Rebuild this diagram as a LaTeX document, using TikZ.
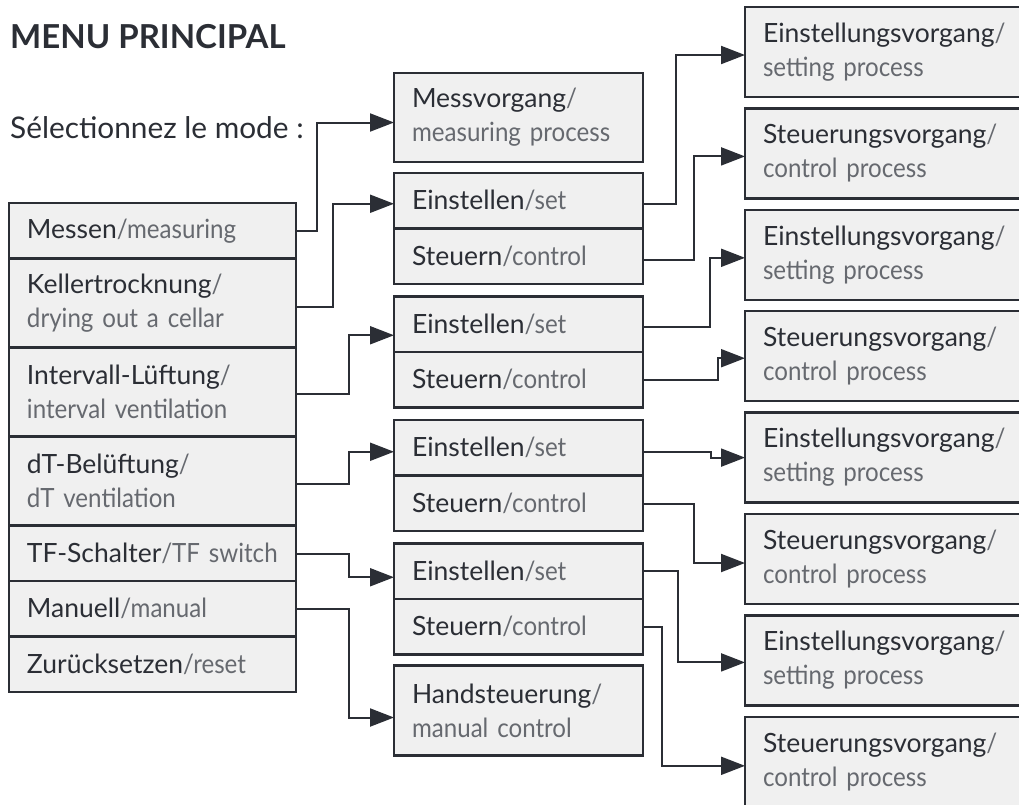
\documentclass[tikz,border=0pt]{standalone}
\usepackage{fontspec}
\setmainfont{Lato}
\usetikzlibrary{positioning,arrows.meta}
\definecolor{ink}{HTML}{2B2E35}
\definecolor{boxfill}{HTML}{F0F0F0}
\definecolor{engl}{HTML}{66696F}
\newcommand{\en}[1]{{\addfontfeature{FakeStretch=0.91}\color{engl}#1}}
\newcommand{\one}[2]{\mbox{#1\en{/#2}}}
\newcommand{\two}[2]{#1\en{/}\\\mbox{\en{#2}}}

\begin{document}
\begin{tikzpicture}[x=1pt,y=-1pt,% picture measured in pixels, y going down
			every node/.style={
				text=ink,
				font=\fontsize{26.5}{34}\selectfont
			},
			cell/.style={
				rectangle,draw=ink,line width=2.3pt,fill=boxfill,
				outer sep=0pt,		% so stacked rows share one border
				inner xsep=18pt,inner ysep=0pt,
				align=left,anchor=north west
			},
			single/.style={minimum height=55.5pt},
			double/.style={minimum height=89pt},
			menucell/.style={cell,text width=251pt},
			midcell/.style={cell,text width=213pt},
			proccell/.style={cell,double,minimum height=90pt,text width=249pt},
			link/.style={draw=ink,line width=2pt,-{Triangle[length=24pt,width=18pt]}}
		]
		\clip (0,0) rectangle (1019,804);
		\fill[white] (0,0) rectangle (1019,804);

		% headings
		\node[anchor=base west,inner sep=0pt,font=\fontsize{33}{33}\selectfont\bfseries](title) at (10,48){MENU PRINCIPAL};
		\node[anchor=base west,inner sep=0pt,font=\fontsize{29.8}{30}\selectfont](prompt) at (10,138){Sélectionnez le mode :};

		% main menu
		\node[menucell,single](messen) at (9,203){\one{Messen}{measuring}};
		\node[menucell,double](keller)[below=0pt of messen]{\two{Kellertrocknung}{drying out a cellar}};
		\node[menucell,double](intervall)[below=0pt of keller]{\two{Intervall-Lüftung}{interval ventilation}};
		\node[menucell,double](dtbel)[below=0pt of intervall]{\two{dT-Belüftung}{dT ventilation}};
		\node[menucell,single](tfschalt)[below=0pt of dtbel]{\one{TF-Schalter}{TF switch}};
		\node[menucell,single](manuell)[below=0pt of tfschalt]{\one{Manuell}{manual}};
		\node[menucell,single](reset)[below=0pt of manuell]{\one{Zurücksetzen}{reset}};

		% second column
		\node[midcell,double](messvorg) at (394,73){\two{Messvorgang}{measuring process}};
		\node[midcell,single](setA)[below=11pt of messvorg]{\one{Einstellen}{set}};
		\node[midcell,single](ctlA)[below=0pt of setA]{\one{Steuern}{control}};
		\node[midcell,single](setB)[below=12.5pt of ctlA]{\one{Einstellen}{set}};
		\node[midcell,single](ctlB)[below=0pt of setB]{\one{Steuern}{control}};
		\node[midcell,single](setC)[below=12.5pt of ctlB]{\one{Einstellen}{set}};
		\node[midcell,single](ctlC)[below=0pt of setC]{\one{Steuern}{control}};
		\node[midcell,single](setD)[below=12.5pt of ctlC]{\one{Einstellen}{set}};
		\node[midcell,single](ctlD)[below=0pt of setD]{\one{Steuern}{control}};
		\node[midcell,double,minimum height=90pt](hand)[below=11pt of ctlD]{\two{Handsteuerung}{manual control}};

		% third column
		\node[proccell](procA) at (745,7){\two{Einstellungsvorgang}{setting process}};
		\node[proccell](procB)[below=11.4pt of procA]{\two{Steuerungsvorgang}{control process}};
		\node[proccell](procC)[below=11.4pt of procB]{\two{Einstellungsvorgang}{setting process}};
		\node[proccell](procD)[below=11.4pt of procC]{\two{Steuerungsvorgang}{control process}};
		\node[proccell](procE)[below=11.4pt of procD]{\two{Einstellungsvorgang}{setting process}};
		\node[proccell](procF)[below=11.4pt of procE]{\two{Steuerungsvorgang}{control process}};
		\node[proccell](procG)[below=11.4pt of procF]{\two{Einstellungsvorgang}{setting process}};
		\node[proccell](procH)[below=11.4pt of procG]{\two{Steuerungsvorgang}{control process}};

		% menu -> second column
		\path[link] (messen.east) -- ++(21,0) |- ([yshift=-5pt]messvorg.west);
		\path[link] ([yshift=-4pt]keller.east) -- ++(37,0) |- ([yshift=-3pt]setA.west);
		\path[link] ([yshift=-2pt]intervall.east) -- ++(53,0) |- ([yshift=-11pt]setB.west);
		\path[link] ([yshift=-3pt]dtbel.east) -- ++(53,0) |- ([yshift=-4pt]setC.west);
		\path[link] ([yshift=-1pt]tfschalt.east) -- ++(53,0) |- ([yshift=-6pt]setD.west);
		\path[link] (manuell.east) -- ++(53,0) |- ([yshift=-7pt]hand.west);

		% second column -> third column
		\path[link] ([yshift=-3pt]setA.east) -- ++(33,0) |- ([yshift=-3pt]procA.west);
		\path[link] ([yshift=-4pt]ctlA.east) -- ++(51,0) |- ([yshift=-3pt]procB.west);
		\path[link] ([yshift=-3pt]setB.east) -- ++(67,0) |- ([yshift=-3pt]procC.west);
		\path[link] (ctlB.east) -- ++(75,0) |- ([yshift=-2pt]procD.west);
		\path[link] ([yshift=-4pt]setC.east) -- ++(68,0) |- (procE.west);
		\path[link] ([yshift=-1pt]ctlC.east) -- ++(51,0) |- ([yshift=-4pt]procF.west);
		\path[link] (setD.east) -- ++(35,0) |- ([yshift=-2pt]procG.west);
		\path[link] (ctlD.east) -- ++(19,0) |- ([yshift=-4pt]procH.west);
	\end{tikzpicture}
\end{document}
